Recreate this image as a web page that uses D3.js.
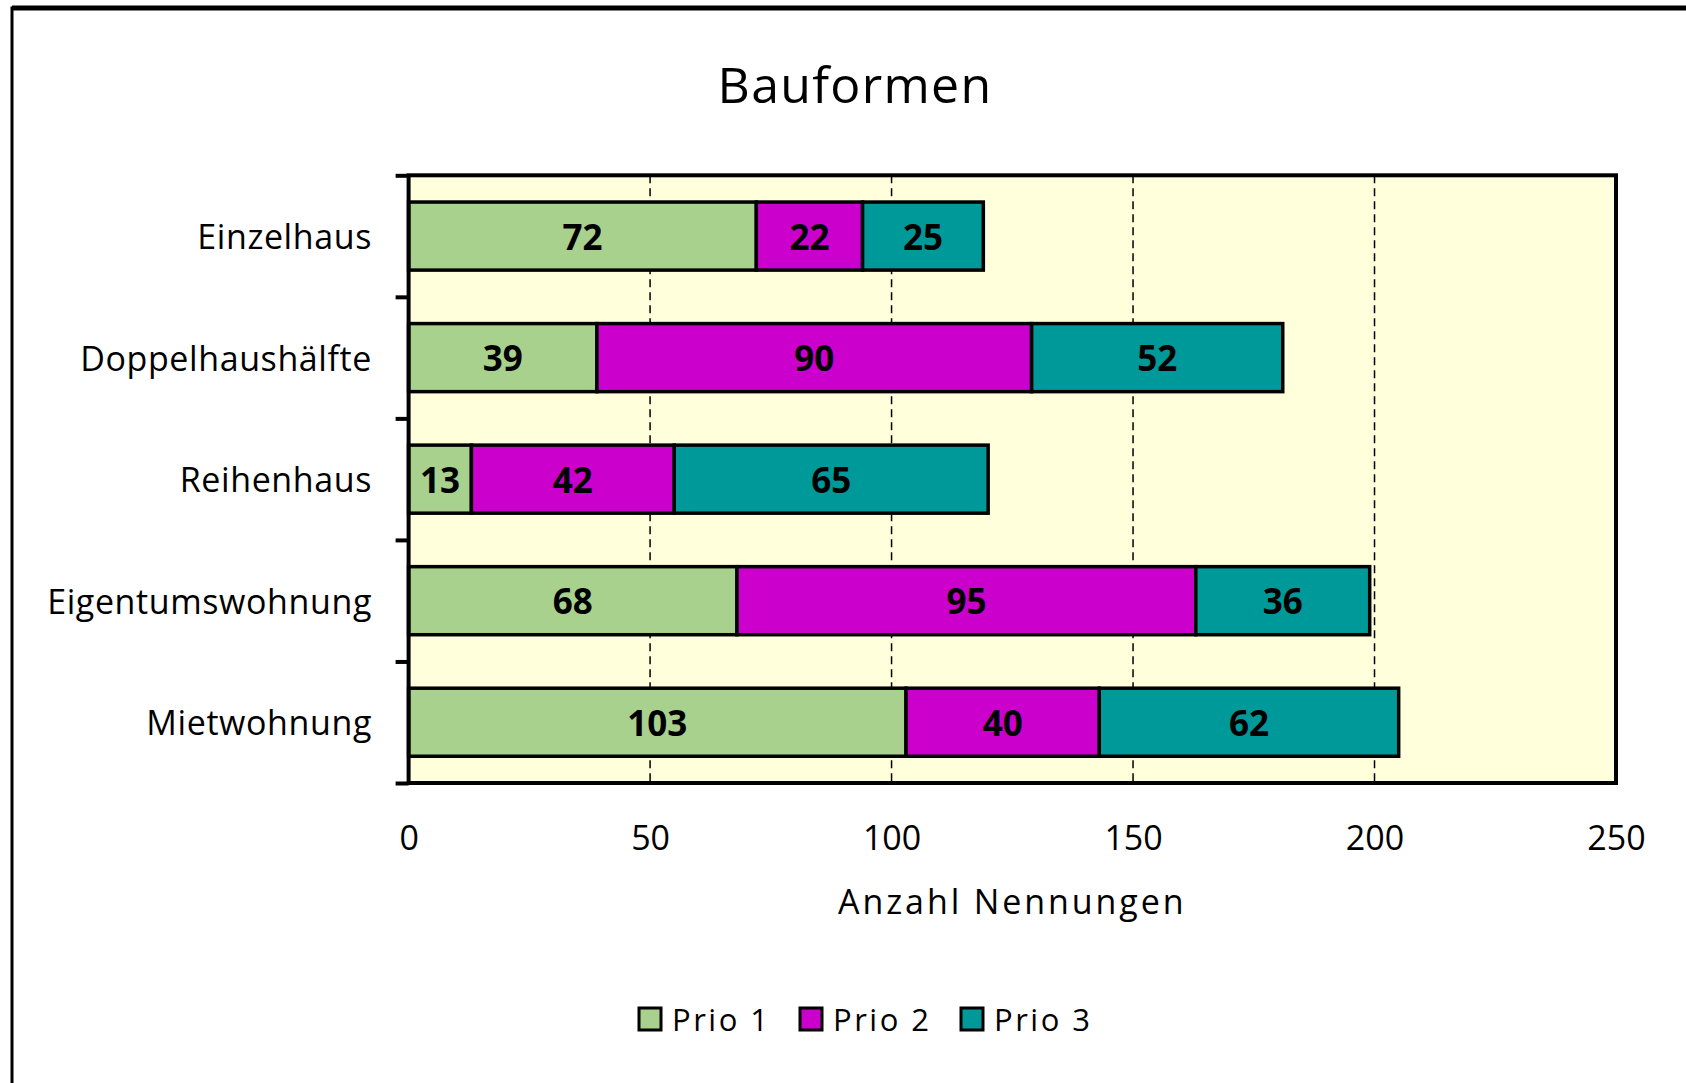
<!DOCTYPE html>
<html>
<head>
<meta charset="utf-8">
<script src="https://cdn.jsdelivr.net/npm/d3@7/dist/d3.min.js"></script>
<style>
  html, body { margin: 0; padding: 0; background: #ffffff; }
  svg { display: block; }
  text { font-family: "Open Sans", Lato, sans-serif; fill: #000; }
</style>
</head>
<body>
<script>
// Survey: preferred building types, counts of mentions per priority
const categories = ["Einzelhaus", "Doppelhaushälfte", "Reihenhaus", "Eigentumswohnung", "Mietwohnung"];
const seriesNames = ["Prio 1", "Prio 2", "Prio 3"];
const prio1 = [72, 39, 13, 68, 103];
const prio2 = [22, 90, 42, 95, 40];
const prio3 = [25, 52, 65, 36, 62];
const xTicks = [0, 50, 100, 150, 200, 250];
const gridTicks = [50, 100, 150, 200];
const colors = ["#a9d18e", "#cc00cc", "#009999"];

const W = 1686, H = 1083;
const plot = { left: 408.6, right: 1616, top: 175.3, bottom: 783 };

const svg = d3.select("body").append("svg").attr("width", W).attr("height", H);

// chart frame (extends past the right and bottom edges)
svg.append("path").attr("d", `M12,1100 L12,8 L1700,8`)
  .attr("fill", "none").attr("stroke", "#000").attr("stroke-width", 3);
svg.append("line").attr("x1", 12).attr("x2", 1700).attr("y1", 8).attr("y2", 8)
  .attr("stroke", "#000").attr("stroke-width", 5);

// title
svg.append("text").attr("x", 855).attr("y", 84)
  .attr("text-anchor", "middle").attr("dominant-baseline", "central")
  .style("font-size", "50px").style("letter-spacing", "1.3px").text("Bauformen");

const x = d3.scaleLinear().domain([0, 250]).range([plot.left, plot.right]);
const y = d3.scaleBand().domain(categories).range([plot.top, plot.bottom])
  .paddingInner(0.44).paddingOuter(0.22);
const yEdges = d3.scaleLinear().domain([0, categories.length]).range([plot.top, plot.bottom]);

// plot background
svg.append("rect").attr("x", x(0)).attr("y", plot.top)
  .attr("width", x(250) - x(0)).attr("height", plot.bottom - plot.top)
  .attr("fill", "#ffffdc");

// dashed vertical gridlines
svg.append("g").selectAll("line").data(gridTicks).join("line")
  .attr("x1", d => x(d)).attr("x2", d => x(d))
  .attr("y1", plot.top).attr("y2", plot.bottom)
  .attr("stroke", "#000").attr("stroke-width", 1.5).attr("stroke-dasharray", "8,5");

// stacked bars
const rows = categories.map((c, i) => ({ cat: c, "Prio 1": prio1[i], "Prio 2": prio2[i], "Prio 3": prio3[i] }));
const stack = d3.stack().keys(seriesNames)(rows);

const layers = svg.append("g").selectAll("g").data(stack).join("g")
  .attr("fill", (d, i) => colors[i]);
layers.selectAll("rect").data(d => d).join("rect")
  .attr("x", d => x(d[0]))
  .attr("y", d => y(d.data.cat))
  .attr("width", d => x(d[1]) - x(d[0]))
  .attr("height", y.bandwidth())
  .attr("stroke", "#000").attr("stroke-width", 3.5);

// value labels
layers.selectAll("text").data(d => d.map(v => ({ v, key: d.key }))).join("text")
  .attr("x", d => (x(d.v[0]) + x(d.v[1])) / 2)
  .attr("y", d => y(d.v.data.cat) + y.bandwidth() / 2)
  .attr("text-anchor", "middle").attr("dominant-baseline", "central")
  .style("font-size", "35px").style("font-weight", "bold")
  .text(d => d.v.data[d.key]);

// plot border
svg.append("rect").attr("x", x(0)).attr("y", plot.top)
  .attr("width", x(250) - x(0)).attr("height", plot.bottom - plot.top)
  .attr("fill", "none").attr("stroke", "#000").attr("stroke-width", 4);

// category axis: ticks at band edges
const yAxis = svg.append("g").attr("transform", `translate(${x(0)},0)`)
  .call(d3.axisLeft(yEdges).tickValues(d3.range(categories.length + 1)).tickSize(13).tickFormat(""));
yAxis.select(".domain").remove();
yAxis.selectAll("line").attr("stroke", "#000").attr("stroke-width", 4);

svg.append("g").selectAll("text").data(categories).join("text")
  .attr("x", 372).attr("y", d => y(d) + y.bandwidth() / 2)
  .attr("text-anchor", "end").attr("dominant-baseline", "central")
  .style("font-size", "34px").style("letter-spacing", "0.6px").text(d => d);

// value axis
const xAxis = svg.append("g").attr("transform", `translate(0,${plot.bottom})`)
  .call(d3.axisBottom(x).tickValues(xTicks).tickSize(0).tickPadding(0));
xAxis.select(".domain").remove();
xAxis.selectAll("text").attr("y", 837 - plot.bottom).attr("dy", null)
  .attr("dominant-baseline", "central")
  .style("font-size", "34px").style("font-family", "'Open Sans', Lato, sans-serif").attr("fill", "#000");

svg.append("text").attr("x", (plot.left + plot.right) / 2).attr("y", 901)
  .attr("text-anchor", "middle").attr("dominant-baseline", "central")
  .style("font-size", "34px").style("letter-spacing", "2.9px").text("Anzahl Nennungen");

// legend
const legendX = [639, 800, 961];
const legend = svg.append("g").selectAll("g").data(seriesNames).join("g")
  .attr("transform", (d, i) => `translate(${legendX[i]},1019)`);
legend.append("rect").attr("x", 0).attr("y", -11).attr("width", 22).attr("height", 22)
  .attr("fill", (d, i) => colors[i]).attr("stroke", "#000").attr("stroke-width", 3);
legend.append("text").attr("x", 33).attr("y", 0).attr("dominant-baseline", "central")
  .style("font-size", "31px").style("letter-spacing", "2.5px").text(d => d);
</script>
</body>
</html>
